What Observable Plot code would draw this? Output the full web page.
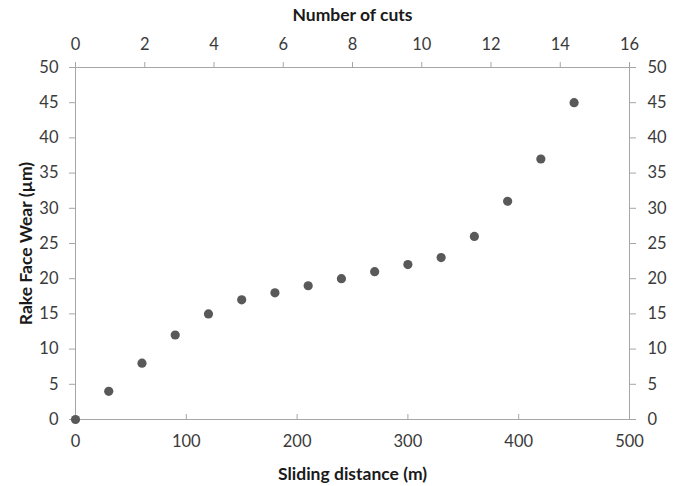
<!DOCTYPE html>
<html>
<head>
<meta charset="utf-8">
<script src="https://cdn.jsdelivr.net/npm/d3@7"></script>
<script src="https://cdn.jsdelivr.net/npm/@observablehq/plot@0.6"></script>
<style>
  html, body { margin: 0; padding: 0; background: #fff; }
  #chart svg { font-family: Lato, "Open Sans", sans-serif; }
</style>
</head>
<body>
<div id="chart"></div>
<script>
// Data
const distance = [0, 30, 60, 90, 120, 150, 180, 210, 240, 270, 300, 330, 360, 390, 420, 450];
const wear = [0, 4, 8, 12, 15, 17, 18, 19, 20, 21, 22, 23, 26, 31, 37, 45];
const distanceTicks = [0, 100, 200, 300, 400, 500];
const cutTicks = [0, 2, 4, 6, 8, 10, 12, 14, 16];
const wearTicks = [0, 5, 10, 15, 20, 25, 30, 35, 40, 45, 50];
const maxDistance = 500;
const maxCuts = 16;
const maxWear = 50;

const xTitle = "Sliding distance (m)";
const topTitle = "Number of cuts";
const yTitle = "Rake Face Wear (µm)";

const W = 681, H = 486;
const mL = 75, mR = 52, mT = 67, mB = 67;
const innerH = H - mT - mB;

const axisGray = "#a6a6a6";
const labelColor = "#3a3a3a";
const titleColor = "#1a1a1a";
const fs = 16.5;
const tfs = 17.5;

const points = distance.map((d, i) => ({distance: d, wear: wear[i]}));

const chart = Plot.plot({
  width: W,
  height: H,
  marginLeft: mL,
  marginRight: mR,
  marginTop: mT,
  marginBottom: mB,
  style: {fontSize: fs + "px", fontFamily: "Lato, 'Open Sans', sans-serif", background: "#fff"},
  x: {domain: [0, maxDistance]},
  y: {domain: [0, maxWear]},
  marks: [
    Plot.frame({stroke: axisGray, strokeWidth: 1}),
    Plot.axisY(wearTicks, {anchor: "left", tickSize: 6, tickPadding: 11, stroke: axisGray, fill: labelColor, label: null, fontSize: fs}),
    Plot.axisY(wearTicks, {anchor: "right", tickSize: 6, tickPadding: 12, stroke: axisGray, fill: labelColor, label: null, fontSize: fs}),
    Plot.axisX(distanceTicks, {anchor: "bottom", tickSize: 0, tickPadding: 16, fill: labelColor, label: null, fontSize: fs}),
    Plot.tickX(distanceTicks, {x: d => d, insetTop: innerH - 5, stroke: axisGray}),
    Plot.axisX(cutTicks.map(c => c * maxDistance / maxCuts), {anchor: "top", tickSize: 6, tickPadding: 12, stroke: axisGray, fill: labelColor, label: null, fontSize: fs, tickFormat: d => Math.round(d * maxCuts / maxDistance)}),
    Plot.dot(points, {x: "distance", y: "wear", r: 4.6, fill: "#595959", stroke: "none"}),
    Plot.text([xTitle], {frameAnchor: "bottom", lineAnchor: "middle", dy: 55, fontWeight: "bold", fontSize: tfs, fill: titleColor}),
    Plot.text([topTitle], {frameAnchor: "top", lineAnchor: "middle", dy: -52, fontWeight: "bold", fontSize: tfs, fill: titleColor}),
    Plot.text([yTitle], {frameAnchor: "left", textAnchor: "middle", lineAnchor: "middle", dx: -49, rotate: -90, fontWeight: "bold", fontSize: tfs, fill: titleColor})
  ]
});
document.getElementById("chart").appendChild(chart);
</script>
</body>
</html>
